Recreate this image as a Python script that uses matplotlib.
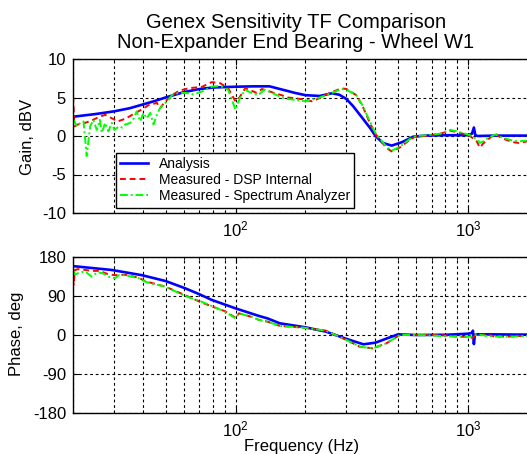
import numpy as np
import matplotlib
matplotlib.use("Agg")
import matplotlib.pyplot as plt
from matplotlib.ticker import LogLocator, LogFormatterMathtext, NullFormatter

plt.rcParams['font.family'] = ['Liberation Sans', 'DejaVu Sans']
plt.rcParams['mathtext.fontset'] = 'custom'
plt.rcParams['mathtext.rm'] = 'Liberation Sans'
plt.rcParams['mathtext.it'] = 'Liberation Sans'
plt.rcParams['axes.unicode_minus'] = False

# ---- gain (dBV) ----
f_gain_an = [20, 25, 30, 35, 40, 45, 50, 60, 70, 80, 100, 120, 140, 160, 180, 200, 230, 260,
             280, 300, 320, 350, 380, 400, 430, 470, 520, 580, 650, 800, 1000, 1040, 1060,
             1075, 1100, 1300, 1600, 2000]
gain_an = [2.5, 2.85, 3.2, 3.6, 4.1, 4.55, 5.0, 5.7, 6.1, 6.3, 6.4, 6.45, 6.45, 6.0, 5.6, 5.3,
           5.2, 5.55, 5.35, 4.8, 3.9, 2.4, 1.0, 0.0, -0.9, -1.25, -0.8, -0.1, 0.05, 0.1, 0.1,
           0.3, 1.1, 0.1, 0.0, 0.05, 0.05, 0.05]

f_gain_dsp = [20, 20.3, 21, 22.5, 24, 26, 27.5, 29.4, 31.1, 32.6, 34.8, 37.1, 39.6, 42.2, 45.9,
              47.3, 49.9, 53.3, 57.5, 63, 72, 79, 86, 93, 97, 100, 104, 110, 117, 123, 130, 140,
              146, 158, 168, 180, 190, 200, 213, 225, 240, 255, 270, 285, 300, 331, 353, 378,
              401, 446, 469, 509, 561, 600, 660, 760, 840, 950, 1020, 1090, 1125, 1160, 1200,
              1310, 1400, 1560, 1650, 1800, 2000]
gain_dsp = [5.1, 1.25, 1.5, 1.7, 2.0, 2.5, 2.75, 2.3, 1.9, 2.1, 2.5, 3.0, 3.45, 4.0, 4.3, 3.6,
            4.5, 5.3, 5.9, 6.2, 6.4, 7.0, 6.85, 6.2, 5.2, 4.5, 5.0, 6.2, 5.9, 5.6, 6.1, 5.8, 5.6,
            5.3, 5.0, 4.9, 4.8, 4.7, 4.5, 4.8, 5.25, 5.6, 5.9, 6.2, 6.1, 5.3, 3.8, 1.7, 0.2,
            -1.55, -2.0, -1.5, -0.5, 0.0, 0.0, 0.3, 0.7, 0.3, 0.0, -0.7, -1.5, -1.0, -0.6, 0.3,
            -0.3, -0.8, -0.9, -0.7, -0.7]

f_gain_sa = [20, 20.1, 20.8, 21.5, 22.2, 22.9, 23.7, 24.5, 25.3, 26.1, 26.6, 27.5, 28.4, 29.4,
             30.1, 31.6, 32.6, 33.6, 35.3, 36.5, 37.6, 38.9, 40.2, 41.5, 43.0, 44.4, 45.9, 47.3,
             49.9, 51.5, 53.3, 57, 61, 66, 72, 79, 86, 93, 97, 100, 104, 110, 117, 125, 133, 146,
             158, 168, 180, 190, 200, 213, 225, 240, 255, 270, 285, 300, 331, 353, 378, 401, 446,
             469, 509, 561, 600, 660, 760, 840, 950, 1020, 1090, 1125, 1160, 1200, 1310, 1400,
             1560, 1650, 1800, 2000]
gain_sa = [2.1, 2.1, 1.25, 1.7, 1.9, -2.6, 1.25, 2.1, 0.8, 2.1, 0.4, 1.7, 0.6, 1.7, 0.8, 1.25,
           1.1, 1.5, 1.7, 2.3, 3.2, 1.9, 3.0, 2.3, 3.0, 1.5, 2.75, 3.6, 4.3, 4.7, 5.3, 5.6, 5.6,
           5.4, 5.8, 6.4, 6.5, 6.0, 4.5, 3.4, 4.8, 6.0, 5.6, 5.3, 6.0, 5.5, 5.0, 4.8, 4.7, 4.6,
           4.5, 4.7, 4.9, 5.2, 5.5, 5.8, 6.1, 6.0, 5.3, 3.9, 1.9, 0.3, -1.4, -1.9, -1.4, -0.4,
           0.0, 0.1, 0.3, 0.8, 0.4, 0.1, -0.4, -0.9, -0.7, -0.4, 0.2, -0.2, -0.6, -0.7, -0.6, -0.5]

# ---- phase (deg) ----
f_ph_an = [20, 29.4, 39.6, 50, 60.6, 70, 79, 100, 126, 137, 155, 200, 245, 300, 355, 400, 445,
           500, 600, 800, 1000, 1040, 1050, 1060, 1070, 1100, 1300, 1600, 2000]
ph_an = [159, 150, 138, 124.6, 108, 94, 81, 61.5, 44, 38.5, 27, 17.7, 7.7, -9, -21.5, -17.7,
         -8.5, 1.5, 0, 0.5, 3, 5, 10, -21, 0, 1.5, 1.5, 1.0, 1.0]

f_ph_dsp = [20, 20.1, 20.4, 21, 22.6, 24.1, 26, 28.4, 30.3, 33.6, 38.4, 40.9, 45.1, 50, 60.6,
            70, 79, 90, 100, 103.5, 117, 126, 137, 155, 196, 245, 300, 342, 390, 446, 509, 600,
            700, 800, 900, 1000, 1050, 1070, 1100, 1200, 1300, 1500, 1700, 2000]
ph_dsp = [150, 115, 150, 152, 150, 148, 148, 140, 138, 139, 132, 124, 118, 111.5, 92, 77, 66,
          55, 40, 50, 42, 35, 31, 21, 17, 10, -11.5, -27, -30.8, -19, 0, 0, 0, -1, -4, -4, -7,
          -1, 0, 1.5, -3.5, -3.5, -2, 1.5]

f_ph_sa = [20, 20.5, 21.5, 22.6, 24.1, 25.5, 27, 28.4, 30.3, 31.5, 33.6, 36, 38.4, 40.9, 45.1,
           50, 60.6, 70, 79, 90, 100, 103.5, 117, 126, 137, 155, 196, 245, 300, 342, 390, 446,
           509, 600, 700, 800, 900, 1000, 1050, 1100, 1200, 1300, 1500, 1700, 2000]
ph_sa = [148, 140, 145, 146, 134.6, 145, 142, 134.6, 131, 138, 138, 134, 131, 123, 117, 111.5,
         90, 79, 67, 54, 38.5, 50, 42, 35, 31, 21, 17, 10, -11.5, -27, -30.8, -19, 0, 0, -1, -3,
         -4, -4, -3, 1.5, -2, -3.5, -4, -3, 0]

W, H = 527, 454
fig = plt.figure(figsize=(W / 100, H / 100), dpi=100)

# right edge of the axes lies past the picture edge (cropped as in the source)
ax_left = 73 / W
ax_w = (538 - 73) / W
ax1 = fig.add_axes([ax_left, (H - 213) / H, ax_w, 154 / H])
ax2 = fig.add_axes([ax_left, (H - 413) / H, ax_w, 156 / H])

ax1.semilogx(f_gain_an, gain_an, color='#0000ff', lw=1.9, label='Analysis')
ax1.semilogx(f_gain_dsp, gain_dsp, color='#ff0000', lw=1.4, ls=(0, (3, 2)), label='Measured - DSP Internal')
ax1.semilogx(f_gain_sa, gain_sa, color='#00ff00', lw=1.4, ls=(0, (4, 1.5, 1, 1.5)),
             label='Measured - Spectrum Analyzer')

ax2.semilogx(f_ph_an, ph_an, color='#0000ff', lw=1.9)
ax2.semilogx(f_ph_dsp, ph_dsp, color='#ff0000', lw=1.4, ls=(0, (3, 2)))
ax2.semilogx(f_ph_sa, ph_sa, color='#00ff00', lw=1.4, ls=(0, (4, 1.5, 1, 1.5)))

ax1.set_ylim(-10, 10)
ax1.set_yticks([-10, -5, 0, 5, 10])
ax2.set_ylim(-180, 180)
ax2.set_yticks([-180, -90, 0, 90, 180])

for ax in (ax1, ax2):
    ax.set_xlim(20, 2000)
    ax.xaxis.set_major_locator(LogLocator(base=10))
    ax.xaxis.set_minor_locator(LogLocator(base=10, subs=np.arange(2, 10)))
    ax.xaxis.set_major_formatter(LogFormatterMathtext())
    ax.xaxis.set_minor_formatter(NullFormatter())
    ax.grid(True, which='major', color='black', ls=(0, (2.5, 2.5)), lw=0.8)
    ax.grid(True, which='minor', axis='x', color='black', ls=(0, (2.5, 2.5)), lw=0.8)
    ax.tick_params(which='both', direction='in', top=True, right=True, labelsize=12,
                   length=4, pad=5)
    ax.tick_params(which='minor', length=2)
    for s in ax.spines.values():
        s.set_linewidth(1.0)
    ax.set_axisbelow(True)

leg = ax1.legend(loc='upper left', bbox_to_anchor=(43 / 465, 60 / 154), borderaxespad=0,
                 fontsize=10, handlelength=2.0, labelspacing=0.15, borderpad=0.3,
                 handletextpad=0.8, fancybox=False, framealpha=1, edgecolor='black')
leg.get_frame().set_linewidth(1.0)

fig.text(296 / W, 1 - 22 / H, 'Genex Sensitivity TF Comparison', ha='center', va='center', fontsize=14.5)
fig.text(296 / W, 1 - 42 / H, 'Non-Expander End Bearing - Wheel W1', ha='center', va='center', fontsize=14.5)
fig.text(27 / W, 1 - 137 / H, 'Gain, dBV', rotation=90, ha='center', va='center', fontsize=12)
fig.text(17 / W, 1 - 334 / H, 'Phase, deg', rotation=90, ha='center', va='center', fontsize=12)
fig.text(302 / W, 1 - 446 / H, 'Frequency (Hz)', ha='center', va='center', fontsize=12)

fig.savefig('out.png', dpi=100)
